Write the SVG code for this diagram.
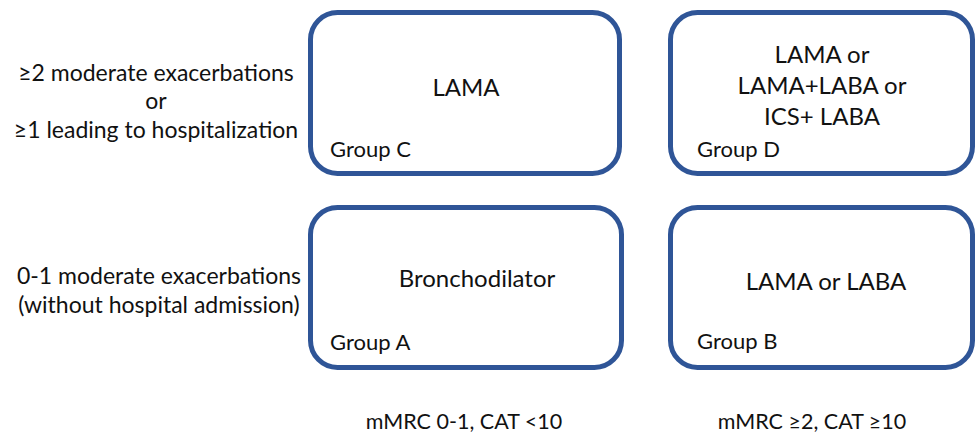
<svg xmlns="http://www.w3.org/2000/svg" width="976" height="437" viewBox="0 0 976 437">
<style>
.box{fill:#ffffff;stroke:#2F5597;stroke-width:5}
text{font-family:Lato,"Open Sans","Liberation Sans",sans-serif;font-size:24px;fill:#111}
.c{text-anchor:middle}
.g{font-size:22px}
.l{font-size:23px}
.b{font-size:21.5px}
</style>
<rect x="0" y="0" width="976" height="437" fill="#ffffff"/>
<g id="row-labels">
<text class="c l" x="156" y="81">≥2 moderate exacerbations</text>
<text class="c l" x="156" y="109">or</text>
<text class="c l" x="156" y="138">≥1 leading to hospitalization</text>
<text class="c l" x="159" y="284">0-1 moderate exacerbations</text>
<text class="c l" x="159" y="313">(without hospital admission)</text>
</g>
<g id="groupC">
<rect class="box" x="310.5" y="12.5" width="309" height="161" rx="27"/>
<text class="c" x="466" y="96">LAMA</text>
<text class="g" x="330" y="157">Group C</text>
</g>
<g id="groupD">
<rect class="box" x="670.5" y="12.5" width="302" height="161" rx="27"/>
<text class="c" x="822" y="63">LAMA or</text>
<text class="c" x="822" y="94">LAMA+LABA or</text>
<text class="c" x="822" y="125">ICS+ LABA</text>
<text class="g" x="697" y="157">Group D</text>
</g>
<g id="groupA">
<rect class="box" x="310.5" y="207.5" width="311" height="160" rx="27"/>
<text class="c" x="477" y="287">Bronchodilator</text>
<text class="g" x="330" y="350">Group A</text>
</g>
<g id="groupB">
<rect class="box" x="670.5" y="207.5" width="302" height="160" rx="27"/>
<text class="c" x="826" y="290">LAMA or LABA</text>
<text class="g" x="697" y="349">Group B</text>
</g>
<g id="axis-labels">
<text class="c b" x="464" y="429">mMRC 0-1, CAT &lt;10</text>
<text class="c b" x="812" y="429">mMRC ≥2, CAT ≥10</text>
</g>
<g id="connectors"></g>
</svg>
